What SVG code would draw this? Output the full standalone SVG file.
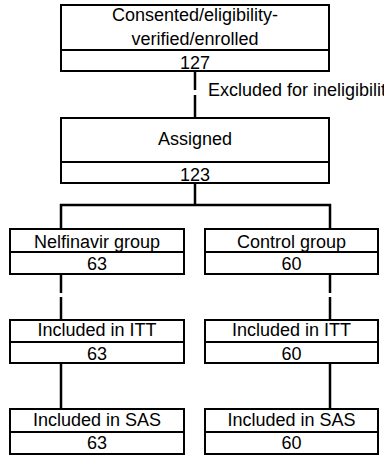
<svg xmlns="http://www.w3.org/2000/svg" width="384" height="455" viewBox="0 0 384 455">
<style>
.box{fill:#fff;stroke:#000;stroke-width:2}
.t{font-family:"Liberation Sans",Arial,sans-serif;font-size:18px;fill:#000;text-anchor:middle}
.lbl{font-family:"Liberation Sans",Arial,sans-serif;font-size:18px;fill:#000}
.c{fill:none;stroke:#000;stroke-width:2.5}
</style>
<rect width="384" height="455" fill="#fff"/>
<g id="connectors">
<line class="c" x1="195" y1="71" x2="195" y2="90"/>
<line class="c" x1="195" y1="95" x2="195" y2="118"/>
<polyline class="c" points="195,183 195,205"/>
<polyline class="c" points="61,229 61,205 330,205 330,229"/>
<line class="c" x1="61" y1="274" x2="61" y2="293"/>
<line class="c" x1="61" y1="297" x2="61" y2="320"/>
<line class="c" x1="330" y1="274" x2="330" y2="293"/>
<line class="c" x1="330" y1="297" x2="330" y2="320"/>
<line class="c" x1="61" y1="363" x2="61" y2="409"/>
<line class="c" x1="330" y1="363" x2="330" y2="409"/>
</g>
<g id="n-enrolled">
<rect class="box" x="61" y="5" width="268" height="45"/>
<rect class="box" x="61" y="50" width="268" height="21"/>
<text class="t" x="195" y="21">Consented/eligibility-</text>
<text class="t" x="195" y="45">verified/enrolled</text>
<text class="t" x="195" y="69">127</text>
</g>
<g id="n-excluded">
<text class="lbl" x="208" y="96">Excluded for ineligibility</text>
</g>
<g id="n-assigned">
<rect class="box" x="61" y="118" width="268" height="44"/>
<rect class="box" x="61" y="162" width="268" height="21"/>
<text class="t" x="195" y="144.5">Assigned</text>
<text class="t" x="195" y="180.5">123</text>
</g>
<g id="n-nelfinavir">
<rect class="box" x="10" y="229" width="174" height="23"/>
<rect class="box" x="10" y="252" width="174" height="22"/>
<text class="t" x="97" y="247.5">Nelfinavir group</text>
<text class="t" x="97" y="270">63</text>
</g>
<g id="n-control">
<rect class="box" x="205" y="229" width="173" height="23"/>
<rect class="box" x="205" y="252" width="173" height="22"/>
<text class="t" x="291.5" y="247.5">Control group</text>
<text class="t" x="291.5" y="270">60</text>
</g>
<g id="n-itt-left">
<rect class="box" x="10" y="320" width="174" height="22"/>
<rect class="box" x="10" y="342" width="174" height="21"/>
<text class="t" x="97" y="336">Included in ITT</text>
<text class="t" x="97" y="360">63</text>
</g>
<g id="n-itt-right">
<rect class="box" x="205" y="320" width="173" height="22"/>
<rect class="box" x="205" y="342" width="173" height="21"/>
<text class="t" x="291.5" y="336">Included in ITT</text>
<text class="t" x="291.5" y="360">60</text>
</g>
<g id="n-sas-left">
<rect class="box" x="10" y="409" width="174" height="23"/>
<rect class="box" x="10" y="432" width="174" height="22"/>
<text class="t" x="97" y="425.5">Included in SAS</text>
<text class="t" x="97" y="449">63</text>
</g>
<g id="n-sas-right">
<rect class="box" x="205" y="409" width="173" height="23"/>
<rect class="box" x="205" y="432" width="173" height="22"/>
<text class="t" x="291.5" y="425.5">Included in SAS</text>
<text class="t" x="291.5" y="449">60</text>
</g>
</svg>
